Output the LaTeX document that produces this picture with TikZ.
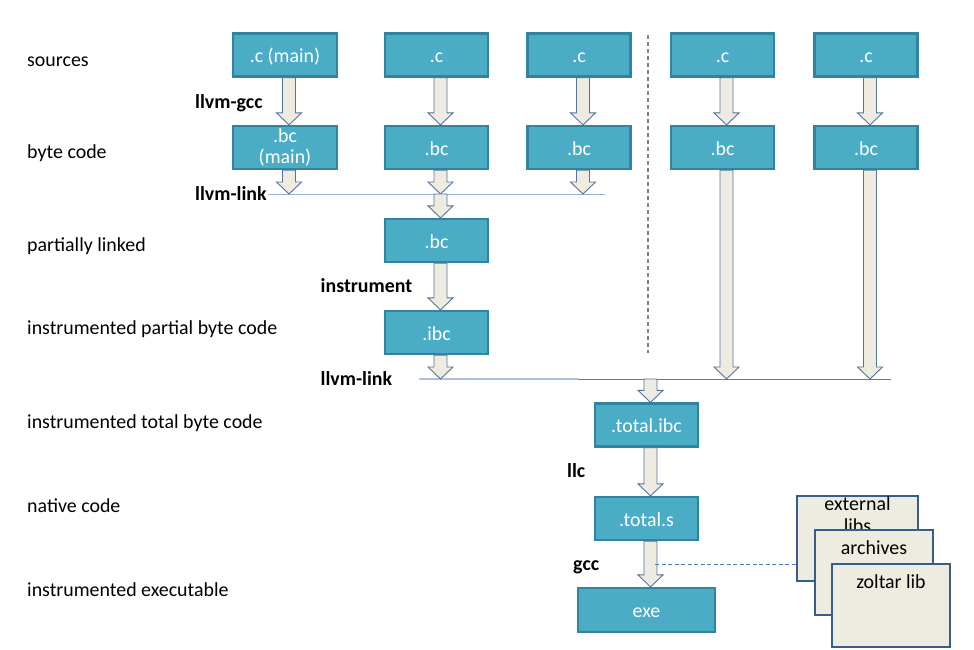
\documentclass[tikz,border=0pt]{standalone}
\usepackage{fontspec}
\setmainfont{Carlito}
\usetikzlibrary{calc}
\definecolor{tealfill}{HTML}{4BACC6}
\definecolor{tealdraw}{HTML}{31849B}
\definecolor{beige}{HTML}{EEECE1}
\definecolor{arrdraw}{HTML}{55739F}
\definecolor{libdraw}{HTML}{385D8A}
\definecolor{lineA}{HTML}{95B3D7}
\definecolor{lineB}{HTML}{ABC0DC}
\definecolor{lineC}{HTML}{4F7EB5}
\definecolor{grayd}{HTML}{7F7F7F}
\newcommand\barr[2]{\path[blockarrow] let \p1=($(#1)+(4,0)$), \p2=($(#2)+(4,0)$) in
  (\x1-6.5pt,\y1) -- (\x1+6.5pt,\y1) -- (\x1+6.5pt,\y2+12pt) -- (\x1+12.5pt,\y2+12pt)
  -- (\x1,\y2) -- (\x1-12.5pt,\y2+12pt) -- (\x1-6.5pt,\y2+12pt) -- cycle;}
\tikzset{
  tboxbase/.style={draw=tealdraw, fill=tealfill, line width=2.2pt, text=white, inner sep=0pt,
    minimum height=43pt, minimum width=103pt},
  tbox/.style={tboxbase, text height=16pt, text depth=1pt},
  libbox/.style={draw=libdraw, fill=beige, line width=2.2pt, inner sep=0pt},
  lab/.style={anchor=base west, inner sep=0pt},
  blab/.style={lab, font=\fontsize{19.9}{22}\selectfont\bfseries},
  blockarrow/.style={fill=beige, draw=arrdraw, line width=0.9pt, line join=miter},
}
\begin{document}
\begin{tikzpicture}[x=1pt, y=-1pt, font=\fontsize{19.9}{22}\selectfont]
\useasboundingbox (0,0) rectangle (974,649);

% row labels
\node[lab] (l1) at (27,66) {sources};
\node[lab] (l2) at (27,158.5) {byte code};
\node[lab] (l3) at (27,251) {partially linked};
\node[lab] (l4) at (27,334.5) {instrumented partial byte code};
\node[lab] (l5) at (27,428) {instrumented total byte code};
\node[lab] (l6) at (27,512) {native code};
\node[lab] (l7) at (27,596) {instrumented executable};

% tool labels
\node[blab] (t1) at (195,108) {llvm-gcc};
\node[blab] (t2) at (195,200.5) {llvm-link};
\node[blab] (t3) at (320.5,292) {instrument};
\node[blab] (t4) at (320.5,385.5) {llvm-link};
\node[blab] (t5) at (567,477.5) {llc};
\node[blab] (t6) at (573,570.5) {gcc};

% separator
\draw[grayd, line width=1.5pt, dash pattern=on 4pt off 3pt] (648,35) coordinate (s1) -- (648,353) coordinate (s2);

% link lines
\coordinate (L1a) at (268,194);
\coordinate (L1b) at (605,194);
\coordinate (L2a) at (419,379);
\coordinate (L2m) at (578,379);
\coordinate (L2b) at (891,379);
\draw[lineA, line width=1pt] (L1a) -- (L1b);
\draw[lineB, line width=1.2pt] (L2a) -- (L2m);
\draw[lineC, line width=1pt] (L2m) -- (L2b);

% boxes
\node[tbox, minimum width=104pt] (c1) at (285,55) {.c (main)};
\node[tbox] (c2) at (436.5,55) {.c};
\node[tbox] (c3) at (579,55) {.c};
\node[tbox] (c4) at (722.5,55) {.c};
\node[tbox] (c5) at (866,55) {.c};

\node[tboxbase, minimum width=104pt, align=center, font=\fontsize{19.9}{21.5}\selectfont] (b1) at (285,147.5) {.bc\\(main)};
\node[tbox] (b2) at (436.5,147.5) {.bc};
\node[tbox] (b3) at (579,147.5) {.bc};
\node[tbox] (b4) at (722.5,147.5) {.bc};
\node[tbox] (b5) at (866,147.5) {.bc};

\node[tbox] (p) at (436.5,240.5) {.bc};
\node[tbox] (ibc) at (436.5,332.5) {.ibc};
\node[tbox] (tot) at (646.5,425) {.total.ibc};
\node[tbox] (ts) at (646.5,518.5) {.total.s};
\node[tbox, minimum width=137pt, minimum height=44pt] (exe) at (646.5,610) {exe};

% arrows
\barr{c1.south}{b1.north}
\barr{c2.south}{b2.north}
\barr{c3.south}{b3.north}
\barr{c4.south}{b4.north}
\barr{c5.south}{b5.north}
\barr{b1.south}{b1.south|-L1a}
\barr{b2.south}{b2.south|-L1a}
\barr{b3.south}{b3.south|-L1a}
\barr{p.north|-L1a}{p.north}
\barr{p.south}{ibc.north}
\barr{ibc.south}{ibc.south|-L2a}
\barr{b4.south}{b4.south|-L2a}
\barr{b5.south}{b5.south|-L2a}
\barr{tot.north|-L2a}{tot.north}
\barr{tot.south}{ts.north}
\barr{ts.south}{exe.north}

% libraries
\node[libbox, minimum width=121pt, minimum height=85pt] (ext) at (857.5,538.5) {};
\node[anchor=north, inner sep=0pt, align=center] (extt) at ($(ext.north)+(0,2)$) {external\\libs};
\node[libbox, minimum width=118pt, minimum height=85pt] (arch) at (874,572.5) {};
\node[anchor=base, inner sep=0pt] (archt) at ($(arch.north)+(0,26)$) {archives};
\node[libbox, minimum width=118pt, minimum height=83pt] (zol) at (891,605.5) {};
\node[anchor=base, inner sep=0pt] (zolt) at ($(zol.north)+(0,26)$) {zoltar lib};

% dashed link from gcc to libraries
\coordinate (g1) at (655,564.3);
\draw[lineC, line width=0.9pt, dash pattern=on 4pt off 2.5pt] (g1) -- (g1-|ext.west);
\end{tikzpicture}
\end{document}
